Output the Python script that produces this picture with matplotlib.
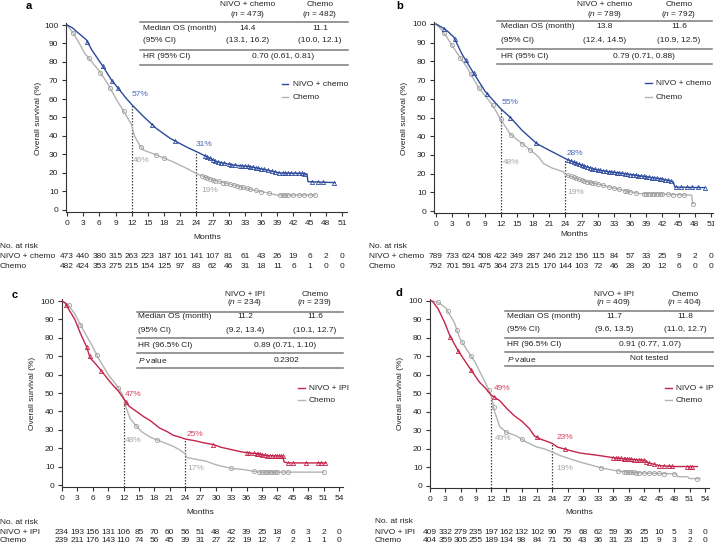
import numpy as np
import matplotlib
matplotlib.use("Agg")
import matplotlib.pyplot as plt
from matplotlib.lines import Line2D
from matplotlib.transforms import blended_transform_factory

plt.rcParams['font.family'] = ['Liberation Sans', 'DejaVu Sans']
plt.rcParams['mathtext.fontset'] = 'custom'
plt.rcParams['mathtext.rm'] = 'Liberation Sans'
plt.rcParams['mathtext.it'] = 'Liberation Sans:italic'

# ---------------- DATA ----------------
# Panel a: NIVO + chemo vs Chemo
a_nivo_t = [0, 1.0, 1.8, 3.6, 4.6, 6.7, 8.3, 9.5, 10.8, 12.0, 14.2, 16.6, 19.1, 22.2, 24.4, 25.9, 27.8, 30.9, 34.0, 37.0, 39.5, 43.2, 44.5, 44.7, 49.7]
a_nivo_s = [100, 98.5, 96.4, 92, 86.5, 77.5, 70, 65.8, 61, 57, 50.5, 44, 38.8, 34, 31, 28.8, 26, 24.3, 23.4, 21.6, 20, 19.8, 19.5, 15.3, 14.8]
a_chemo_t = [0, 1.2, 2.1, 3.3, 4.9, 6.1, 7.7, 9.2, 10.8, 12.0, 12.5, 13.5, 14.2, 16.6, 19.7, 22.2, 24.1, 27.1, 30.9, 34.6, 37.0, 38.9, 46.0]
a_chemo_s = [100, 95.5, 91, 84.7, 79, 74.7, 67.6, 59.5, 52, 46, 40, 35, 32.4, 29.7, 26, 22.5, 19.5, 16.2, 13.5, 10.8, 9.4, 8.1, 8.1]
a_nivo_cens = [3.8, 6.6, 8.4, 9.5, 15.8, 20, 25.5, 26, 26.5, 27, 27.5, 28, 28.5, 29.2, 30, 30.5, 31.2, 32, 32.5, 33, 33.5, 34, 34.5, 35, 35.5, 36, 36.5, 37.2, 38, 38.6, 39.3, 40, 40.5, 41, 41.5, 42.2, 43, 43.5, 44, 45.5, 46.5, 47.5, 49.5]
a_chemo_cens = [1.2, 4, 6.2, 8, 10.5, 13.8, 16.5, 18, 25, 25.5, 26, 26.5, 27, 27.5, 28.2, 29, 29.5, 30.2, 31, 31.5, 32, 32.6, 33.3, 34, 35, 36, 37.5, 39.5, 40, 40.5, 41, 42, 43, 44, 45, 46]
a_risk_nivo = [473, 440, 380, 315, 263, 223, 187, 161, 141, 107, 81, 61, 43, 26, 19, 6, 2, 0]
a_risk_chemo = [482, 424, 353, 275, 215, 154, 125, 97, 83, 62, 46, 31, 18, 11, 6, 1, 0, 0]
a_land = {'nivo': [57, 31], 'chemo': [46, 19]}

# Panel b
b_nivo_t = [0, 1.4, 2.2, 3.3, 4.8, 6.7, 9.1, 11.9, 13.8, 16.0, 18.7, 21.0, 24.0, 24.9, 27.0, 29.8, 32.0, 34.8, 39.0, 42.0, 43.5, 44.0, 44.3, 49.8]
b_nivo_s = [100, 97.7, 96, 93, 84, 75, 64, 55, 50, 43, 36, 32.5, 28, 26.8, 24.5, 22, 21, 20, 18.3, 17, 16, 15.6, 12.8, 12.5]
b_chemo_t = [0, 1.0, 2.0, 3.9, 5.7, 7.9, 10.4, 12.0, 13.8, 16.9, 19.0, 19.9, 21.5, 23.6, 24.0, 25.5, 27.5, 29.8, 32.0, 34.8, 37.8, 40.9, 44.0, 47.4, 47.6, 47.8]
b_chemo_s = [100, 97, 93, 84.5, 77, 66, 57, 49, 41, 34, 29, 25.5, 23, 21, 19.5, 18, 16, 14.6, 13, 11, 9.3, 9.3, 8.8, 8.5, 4, 4]
b_nivo_cens = [1.5, 3.5, 5.5, 7, 9.5, 13.8, 18.5, 24.5, 25, 25.5, 26, 26.5, 27, 27.5, 28, 28.5, 29, 29.5, 30, 30.5, 31, 31.5, 32, 32.5, 33, 33.5, 34, 34.5, 35, 35.5, 36, 36.5, 37, 37.5, 38, 38.5, 39, 39.5, 40, 40.5, 41, 41.5, 42, 42.5, 43, 43.5, 44.5, 45.5, 46.5, 47.5, 48.5, 49.8]
b_chemo_cens = [1.5, 3, 4.5, 6.5, 8, 10.5, 12, 14, 16, 17.5, 24.5, 25, 25.5, 26, 26.5, 27, 27.5, 28, 28.5, 29, 29.5, 30, 31, 32, 33, 34, 35, 35.5, 36, 37, 38.5, 39, 39.5, 40, 40.5, 41, 41.5, 42, 43, 44, 45, 46, 47.7]
b_risk_nivo = [789, 733, 624, 508, 422, 349, 287, 246, 212, 156, 115, 84, 57, 33, 25, 9, 2, 0]
b_risk_chemo = [792, 701, 591, 475, 364, 273, 215, 170, 144, 103, 72, 46, 28, 20, 12, 6, 0, 0]
b_land = {'nivo': [55, 28], 'chemo': [48, 19]}

# Panel c: NIVO + IPI vs Chemo
c_nivo_t = [0, 0.6, 1.2, 2.5, 3.5, 4.8, 5.5, 6.5, 7.7, 8.8, 10.0, 11.0, 12.0, 13.0, 14.5, 16.0, 17.2, 19.0, 20.5, 21.7, 23.0, 24.0, 26.0, 27.5, 29.5, 31.0, 33.4, 35.0, 36.6, 38.0, 40.0, 43.0, 43.3, 44.0, 51.5]
c_nivo_s = [100, 99, 96, 90, 83, 75, 69, 66, 62, 58, 54, 51, 47, 43, 40, 37, 35, 31, 29, 27, 26, 25, 24, 23, 22, 20.5, 19, 18, 17.4, 17, 16, 15.7, 12.5, 12, 12]
c_chemo_t = [0, 1.2, 2.5, 3.8, 5.8, 7.1, 9.0, 10.7, 12.0, 12.5, 13.3, 14.5, 15.5, 17.2, 19.0, 21.7, 23.0, 24.0, 24.3, 26.0, 28.0, 30.0, 33.0, 35.0, 38.5, 51.0]
c_chemo_s = [100, 98, 93, 86, 76, 69, 60, 54, 48, 42, 36, 32, 29, 26, 24, 21, 19, 17, 15, 14, 13, 11, 9, 8.5, 7, 7]
c_nivo_cens = [0.8, 4.8, 5.4, 7.7, 12.5, 29.5, 36, 36.5, 37.5, 38, 38.3, 38.6, 39, 39.5, 40, 40.5, 41, 41.5, 42, 42.3, 42.6, 43, 44, 45, 47.5, 50, 50.5, 51.2]
c_chemo_cens = [1.3, 3.6, 6.8, 11, 14.5, 18.5, 33, 37.5, 38.5, 39, 39.5, 40, 40.5, 41, 41.5, 42, 43, 44, 51]
c_risk_nivo = [234, 193, 156, 131, 106, 85, 70, 60, 56, 51, 48, 42, 39, 25, 18, 6, 3, 2, 0]
c_risk_chemo = [239, 211, 176, 143, 110, 74, 56, 45, 39, 31, 27, 22, 19, 12, 7, 2, 1, 1, 0]
c_land = {'nivo': [47, 25], 'chemo': [48, 17]}

# Panel d
d_nivo_t = [0, 0.5, 1.6, 2.9, 3.9, 5.5, 7.8, 9.7, 10.8, 12.0, 13.7, 15.0, 16.5, 18.0, 19.5, 20.5, 21.5, 23.0, 24.0, 25.0, 27.0, 29.4, 33.0, 36.7, 39.0, 42.0, 43.0, 45.0, 47.8, 52.5]
d_nivo_s = [100, 99.5, 95.5, 88, 81, 73, 63.6, 56, 53, 49, 46, 42, 38, 35, 31, 27, 25.5, 24, 23, 21, 19.5, 17.8, 16.5, 15, 14.5, 13.8, 12.4, 11, 10.5, 10.5]
d_chemo_t = [0, 1.6, 3.1, 4.8, 5.8, 7.1, 8.8, 11.0, 12.0, 12.7, 13.7, 15.0, 17.0, 19.0, 21.0, 22.5, 24.3, 25.5, 27.5, 30.0, 33.7, 36.0, 38.0, 42.0, 48.4, 48.6, 50.5, 51.0, 53.0]
d_chemo_s = [100, 99, 96, 88, 80, 74, 67, 55, 49, 40, 32, 29, 27, 23.5, 21, 20, 18, 16.5, 14.6, 12.5, 9.7, 8.5, 7.7, 7, 6.5, 5, 5, 4, 4]
d_nivo_cens = [4, 5.5, 8, 12.6, 21, 26.5, 36, 36.5, 37, 37.5, 38, 38.3, 38.6, 39, 39.5, 40, 40.5, 41, 41.5, 42, 42.5, 43, 44, 45, 46, 47, 47.5, 50.5, 51, 51.5]
d_chemo_cens = [1.5, 3.5, 5.3, 6.3, 8, 11.5, 12.5, 15, 18, 33.5, 37, 38, 38.5, 39, 39.5, 40, 40.5, 41, 42, 43, 44, 45, 46, 48, 52.5]
d_risk_nivo = [409, 332, 279, 235, 197, 162, 132, 102, 90, 79, 68, 62, 59, 36, 25, 10, 5, 3, 0]
d_risk_chemo = [404, 359, 305, 255, 189, 134, 98, 84, 71, 56, 43, 36, 31, 23, 15, 9, 3, 2, 0]
d_land = {'nivo': [49, 23], 'chemo': [49, 19]}

landmarks = [12, 24]

# ---------------- STYLE ----------------
W, H = 714, 547
BLUE = '#2c4a9c'
BLUE_T = '#4b67b5'
RED = '#c3244a'
RED_T = '#d4425f'
GRAY = '#b3b3b3'
GRAY_M = '#9e9e9e'
GRAY_T = '#a6a6a6'
AX = '#333333'
TXT = '#222222'
FS = 6

fig = plt.figure(figsize=(W / 100, H / 100), dpi=100)

def fx(x): return x / W
def fy(y): return 1 - y / H

def ftext(x, y, s, **kw):
    kw.setdefault('fontsize', FS)
    kw.setdefault('color', TXT)
    kw.setdefault('va', 'center')
    fig.text(fx(x), fy(y), s, **kw)

def fline(x0, x1, y0, y1=None, **kw):
    if y1 is None:
        y1 = y0
    fig.add_artist(Line2D([fx(x0), fx(x1)], [fy(y0), fy(y1)], transform=fig.transFigure, **kw))

def make_ax(al, ar, at, ab, x0, x1, x1v, y0, y100):
    ax = fig.add_axes([fx(al), fy(ab), (ar - al) / W, (ab - at) / H])
    sx = (x1 - x0) / x1v
    sy = (y0 - y100) / 100.0
    ax.set_xlim((al - x0) / sx, (ar - x0) / sx)
    ax.set_ylim((y0 - ab) / sy, (y0 - at) / sy)
    for s in ['top', 'right']:
        ax.spines[s].set_visible(False)
    for s in ['left', 'bottom']:
        ax.spines[s].set_color(AX)
        ax.spines[s].set_linewidth(0.8)
    ax.tick_params(direction='out', length=3, width=0.8, colors=AX, labelsize=FS,
                   labelcolor=TXT, pad=2.5)
    ax.set_yticks(range(0, 101, 10))
    ax.patch.set_alpha(0)
    return ax

def draw_curves(ax, t1, s1, c1, col1, t2, s2, c2):
    ax.plot(t2, s2, color=GRAY, lw=1.0, zorder=2)
    ax.plot(c2, np.interp(c2, t2, s2), ls='none', marker='o', ms=3.0, mfc='none',
            mec=GRAY_M, mew=0.6, zorder=3)
    ax.plot(t1, s1, color=col1, lw=1.0, zorder=4)
    ax.plot(c1, np.interp(c1, t1, s1), ls='none', marker='^', ms=3.0, mfc='none',
            mec=col1, mew=0.6, zorder=5)

def draw_land(ax, vals):
    for m, v in zip(landmarks, vals):
        ax.plot([m, m], [ax.get_ylim()[0], v], ls=(0, (1.2, 1.2)), color='#444444', lw=0.9, zorder=1)

def risk(ax, maxm, r1, r2, y1, y2):
    tr = blended_transform_factory(ax.transData, fig.transFigure)
    for i, m in enumerate(range(0, maxm + 1, 3)):
        ax.text(m, fy(y1), str(r1[i]), transform=tr, ha='center', va='center', fontsize=FS, color=TXT)
        ax.text(m, fy(y2), str(r2[i]), transform=tr, ha='center', va='center', fontsize=FS, color=TXT)

def legend(x0, x1, xt, y1, y2, lab1, col1):
    fline(x0, x1, y1, color=col1, lw=1.0)
    fline(x0, x1, y2, color=GRAY, lw=1.0)
    ftext(xt, y1, lab1, ha='left')
    ftext(xt, y2, 'Chemo', ha='left')

TL = dict(color='#7a7a7a', lw=1.1)

# ---------------- PANEL A ----------------
axa = make_ax(66, 347, 23, 212, 67, 342, 51, 210, 25)
draw_land(axa, a_land['nivo'])
draw_curves(axa, a_nivo_t, a_nivo_s, a_nivo_cens, BLUE, a_chemo_t, a_chemo_s, a_chemo_cens)
axa.set_xticks(range(0, 52, 3))
ftext(29, 6, 'a', fontweight='bold', fontsize=8, ha='center', color='black')
ftext(39, 118, 'Overall survival (%)', rotation=90, ha='center')
ftext(207, 237, 'Months', ha='center')
ftext(0, 247, 'No. at risk', ha='left')
ftext(0, 257, 'NIVO + chemo', ha='left')
ftext(0, 267, 'Chemo', ha='left')
risk(axa, 51, a_risk_nivo, a_risk_chemo, 257, 267)
ftext(132, 95, f"{a_land['nivo'][0]}%", color=BLUE_T, ha='left')
ftext(196, 145, f"{a_land['nivo'][1]}%", color=BLUE_T, ha='left')
ftext(133, 160, f"{a_land['chemo'][0]}%", color=GRAY_T, ha='left')
ftext(201, 190, f"{a_land['chemo'][1]}%", color=GRAY_T, ha='left')
legend(282, 288, 293, 84, 97, 'NIVO + chemo', BLUE)
# table a
ftext(248, 5, 'NIVO + chemo', ha='center')
ftext(248, 15, '($\\it{n}$ = 473)', ha='center')
ftext(320, 5, 'Chemo', ha='center')
ftext(320, 15, '($\\it{n}$ = 482)', ha='center')
fline(140, 348, 22, **TL)
ftext(143, 28.5, 'Median OS (month)', ha='left')
ftext(248, 28.5, '14.4', ha='center')
ftext(320, 28.5, '11.1', ha='center')
ftext(143, 41, '(95% CI)', ha='left')
ftext(248, 41, '(13.1, 16.2)', ha='center')
ftext(320, 41, '(10.0, 12.1)', ha='center')
fline(140, 348, 50, **TL)
ftext(143, 57, 'HR (95% CI)', ha='left')
ftext(283, 57, '0.70 (0.61, 0.81)', ha='center')
fline(140, 348, 65, **TL)

# ---------------- PANEL B ----------------
axb = make_ax(434, 714, 22, 213, 436, 711, 51, 211, 24)
draw_land(axb, b_land['nivo'])
draw_curves(axb, b_nivo_t, b_nivo_s, b_nivo_cens, BLUE, b_chemo_t, b_chemo_s, b_chemo_cens)
axb.set_xticks(range(0, 52, 3))
ftext(400, 6, 'b', fontweight='bold', fontsize=8, ha='center', color='black')
ftext(405, 118, 'Overall survival (%)', rotation=90, ha='center')
ftext(574, 234, 'Months', ha='center')
ftext(369, 246, 'No. at risk', ha='left')
ftext(369, 257, 'NIVO + chemo', ha='left')
ftext(369, 267, 'Chemo', ha='left')
risk(axb, 51, b_risk_nivo, b_risk_chemo, 257, 267)
ftext(502, 103, f"{b_land['nivo'][0]}%", color=BLUE_T, ha='left')
ftext(567, 153, f"{b_land['nivo'][1]}%", color=BLUE_T, ha='left')
ftext(503, 162, f"{b_land['chemo'][0]}%", color=GRAY_T, ha='left')
ftext(567, 192, f"{b_land['chemo'][1]}%", color=GRAY_T, ha='left')
legend(645, 652, 656, 83, 97, 'NIVO + chemo', BLUE)
ftext(605, 4, 'NIVO + chemo', ha='center')
ftext(605, 14.5, '($\\it{n}$ = 789)', ha='center')
ftext(679, 4, 'Chemo', ha='center')
ftext(679, 14.5, '($\\it{n}$ = 792)', ha='center')
fline(497, 712, 21, **TL)
ftext(501, 27, 'Median OS (month)', ha='left')
ftext(605, 27, '13.8', ha='center')
ftext(679, 27, '11.6', ha='center')
ftext(501, 40.5, '(95% CI)', ha='left')
ftext(605, 40.5, '(12.4, 14.5)', ha='center')
ftext(679, 40.5, '(10.9, 12.5)', ha='center')
fline(497, 712, 48.5, **TL)
ftext(501, 56, 'HR (95% CI)', ha='left')
ftext(644, 56, '0.79 (0.71, 0.88)', ha='center')
fline(497, 712, 63.5, **TL)

# ---------------- PANEL C ----------------
axc = make_ax(62, 343, 299, 487, 62, 339, 54, 485, 301)
draw_land(axc, c_land['nivo'])
draw_curves(axc, c_nivo_t, c_nivo_s, c_nivo_cens, RED, c_chemo_t, c_chemo_s, c_chemo_cens)
axc.set_xticks(range(0, 55, 3))
ftext(15, 295, 'c', fontweight='bold', fontsize=8, ha='center', color='black')
ftext(32, 393, 'Overall survival (%)', rotation=90, ha='center')
ftext(200, 512, 'Months', ha='center')
ftext(0, 522, 'No. at risk', ha='left')
ftext(0, 532, 'NIVO + IPI', ha='left')
ftext(0, 540.5, 'Chemo', ha='left')
risk(axc, 54, c_risk_nivo, c_risk_chemo, 532, 540.5)
ftext(125, 395, f"{c_land['nivo'][0]}%", color=RED_T, ha='left')
ftext(187, 435, f"{c_land['nivo'][1]}%", color=RED_T, ha='left')
ftext(125, 441, f"{c_land['chemo'][0]}%", color=GRAY_T, ha='left')
ftext(187, 469, f"{c_land['chemo'][1]}%", color=GRAY_T, ha='left')
legend(298, 305, 309, 388, 400, 'NIVO + IPI', RED)
ftext(245, 294, 'NIVO + IPI', ha='center')
ftext(245, 303, '($\\it{n}$ = 234)', ha='center')
ftext(315, 294, 'Chemo', ha='center')
ftext(315, 303, '($\\it{n}$ = 239)', ha='center')
fline(137, 343, 311.5, **TL)
ftext(138, 317, 'Median OS (month)', ha='left')
ftext(245, 317, '11.2', ha='center')
ftext(315, 317, '11.6', ha='center')
ftext(138, 331, '(95% CI)', ha='left')
ftext(245, 331, '(9.2, 13.4)', ha='center')
ftext(315, 331, '(10.1, 12.7)', ha='center')
fline(137, 343, 338, **TL)
ftext(138, 345.5, 'HR (96.5% CI)', ha='left')
ftext(285, 345.5, '0.89 (0.71, 1.10)', ha='center')
fline(137, 343, 353, **TL)
ftext(138, 360.5, '$\\it{P}$ value', ha='left')
ftext(286, 360.5, '0.2302', ha='center')
fline(137, 343, 368, **TL)

# ---------------- PANEL D ----------------
axd = make_ax(430, 709, 299, 488, 430, 705, 54, 486, 300.5)
draw_land(axd, d_land['nivo'])
draw_curves(axd, d_nivo_t, d_nivo_s, d_nivo_cens, RED, d_chemo_t, d_chemo_s, d_chemo_cens)
axd.set_xticks(range(0, 55, 3))
ftext(399, 293, 'd', fontweight='bold', fontsize=8, ha='center', color='black')
ftext(400, 393, 'Overall survival (%)', rotation=90, ha='center')
ftext(579, 512, 'Months', ha='center')
ftext(375, 521.5, 'No. at risk', ha='left')
ftext(375, 532, 'NIVO + IPI', ha='left')
ftext(375, 540.5, 'Chemo', ha='left')
risk(axd, 54, d_risk_nivo, d_risk_chemo, 532, 540.5)
ftext(494, 389, f"{d_land['nivo'][0]}%", color=RED_T, ha='left')
ftext(557, 437.5, f"{d_land['nivo'][1]}%", color=RED_T, ha='left')
ftext(495, 439, f"{d_land['chemo'][0]}%", color=GRAY_T, ha='left')
ftext(556, 468, f"{d_land['chemo'][1]}%", color=GRAY_T, ha='left')
legend(665, 672, 676, 388, 400, 'NIVO + IPI', RED)
ftext(614, 294, 'NIVO + IPI', ha='center')
ftext(614, 302.5, '($\\it{n}$ = 409)', ha='center')
ftext(685, 294, 'Chemo', ha='center')
ftext(685, 302.5, '($\\it{n}$ = 404)', ha='center')
fline(505, 714, 311, **TL)
ftext(507, 316, 'Median OS (month)', ha='left')
ftext(614, 316, '11.7', ha='center')
ftext(685, 316, '11.8', ha='center')
ftext(507, 329.5, '(95% CI)', ha='left')
ftext(614, 329.5, '(9.6, 13.5)', ha='center')
ftext(685, 329.5, '(11.0, 12.7)', ha='center')
fline(505, 714, 337.5, **TL)
ftext(507, 344.5, 'HR (96.5% CI)', ha='left')
ftext(650, 344.5, '0.91 (0.77, 1.07)', ha='center')
fline(505, 714, 352, **TL)
ftext(507, 359, '$\\it{P}$ value', ha='left')
ftext(649, 359, 'Not tested', ha='center')
fline(505, 714, 366, **TL)

fig.savefig('out.png', dpi=100)
